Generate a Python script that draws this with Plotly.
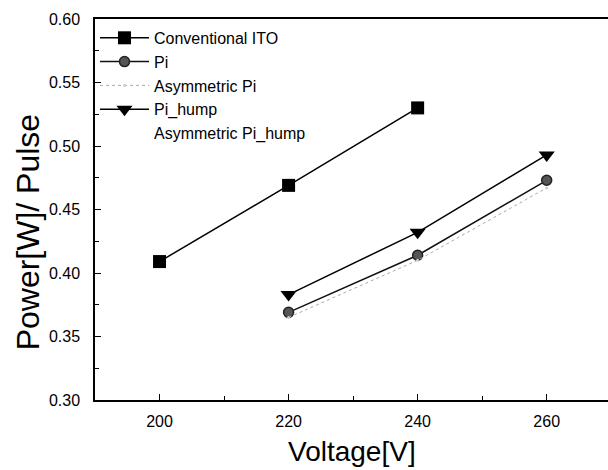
import plotly.graph_objects as go

voltage_conv = [200, 220, 240]
conventional_ito = [0.409, 0.469, 0.530]

voltage = [220, 240, 260]
pi = [0.369, 0.414, 0.473]
asym_pi = [0.365, 0.410, 0.467]
pi_hump = [0.383, 0.432, 0.493]
asym_pi_hump = [0.381, 0.430, 0.490]

x_ticks = [200, 220, 240, 260]
y_ticks = [0.30, 0.35, 0.40, 0.45, 0.50, 0.55, 0.60]

FONT = "Liberation Sans, Arial, sans-serif"

fig = go.Figure()
fig.add_trace(go.Scatter(x=voltage_conv, y=conventional_ito, mode="lines+markers",
                         name="Conventional ITO",
                         line=dict(color="black", width=1.5),
                         marker=dict(symbol="square", size=13, color="black")))
fig.add_trace(go.Scatter(x=voltage, y=pi, mode="lines+markers", name="Pi",
                         line=dict(color="#111", width=1.5),
                         marker=dict(symbol="circle", size=10, color="#555",
                                     line=dict(color="#222", width=1.5))))
fig.add_trace(go.Scatter(x=voltage, y=asym_pi, mode="lines+markers", name="Asymmetric Pi",
                         line=dict(color="#aaa", width=1, dash="dot"),
                         marker=dict(symbol="circle", size=3, color="#ccc")))
fig.add_trace(go.Scatter(x=voltage, y=pi_hump, mode="lines+markers", name="Pi_hump",
                         line=dict(color="black", width=1.5),
                         marker=dict(symbol="triangle-down", size=14, color="black")))
fig.add_trace(go.Scatter(x=voltage, y=asym_pi_hump, mode="lines", name="Asymmetric Pi_hump",
                         line=dict(color="rgba(255,255,255,0)", width=1)))

fig.update_layout(
    width=608, height=470,
    margin=dict(l=95, r=0, t=19, b=70, autoexpand=False),
    paper_bgcolor="white", plot_bgcolor="white",
    font=dict(family=FONT, color="black", size=16),
    showlegend=True,
    legend=dict(x=0.0, y=0.995, xanchor="left", yanchor="top",
                bgcolor="rgba(0,0,0,0)", font=dict(size=16, family=FONT),
                tracegroupgap=0, itemwidth=49),
    annotations=[
        dict(text="Voltage[V]", xref="paper", yref="paper", x=0.5, y=-0.136,
             xanchor="center", yanchor="middle", showarrow=False,
             font=dict(size=28, family=FONT)),
        dict(text="Power[W]/ Pulse", xref="paper", yref="paper", x=-0.1306, y=0.44,
             xanchor="center", yanchor="middle", textangle=-90, showarrow=False,
             font=dict(size=32, family=FONT)),
    ],
)
fig.update_xaxes(range=[190, 269.5], tickvals=x_ticks, ticks="inside", ticklen=6,
                 tickwidth=1, tickcolor="black", ticklabelstandoff=6,
                 minor=dict(dtick=10, tick0=190, ticks="inside", ticklen=4, tickcolor="black"),
                 showline=True, linecolor="black", linewidth=1.5, mirror=True,
                 showgrid=False, zeroline=False, automargin=False,
                 tickfont=dict(size=16, family=FONT))
fig.update_yaxes(range=[0.30, 0.60], tickvals=y_ticks, tickformat=".2f",
                 ticks="inside", ticklen=6, tickwidth=1, tickcolor="black",
                 ticklabelstandoff=10,
                 minor=dict(dtick=0.025, tick0=0.30, ticks="inside", ticklen=4, tickcolor="black"),
                 showline=True, linecolor="black", linewidth=1.5, mirror=True,
                 showgrid=False, zeroline=False, automargin=False,
                 tickfont=dict(size=16, family=FONT))

fig.write_html(
    "out.html",
    config={"displayModeBar": False},
    post_script="document.body.style.margin='0';document.body.style.overflow='hidden';",
)
